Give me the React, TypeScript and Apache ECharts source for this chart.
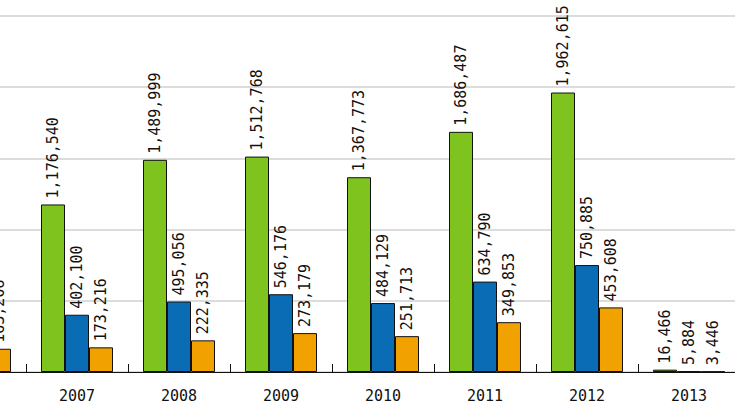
import React, { useEffect, useRef } from "react";
import * as echarts from "echarts";

const categories = ["2006", "2007", "2008", "2009", "2010", "2011", "2012", "2013"];
const greenValues = [null, 1176540, 1489999, 1512768, 1367773, 1686487, 1962615, 16466];
const blueValues = [null, 402100, 495056, 546176, 484129, 634790, 750885, 5884];
const orangeValues = [163208, 173216, 222335, 273179, 251713, 349853, 453608, 3446];
const yTicks = { min: 0, max: 2500000, interval: 500000 };

const fmt = (v: number) => v.toLocaleString("en-US");

export default function App() {
  const ref = useRef<HTMLDivElement>(null);
  useEffect(() => {
    if (!ref.current) return;
    const chart = echarts.init(ref.current, undefined, { renderer: "svg" });
    const label = {
      show: true,
      position: "top",
      rotate: 90,
      align: "left",
      verticalAlign: "middle",
      distance: 6,
      color: "#111",
      fontFamily: "DejaVu Sans Mono",
      fontSize: 15,
      formatter: (p: any) => fmt(p.value),
    };
    const mk = (name: string, data: any[], color: string) => ({
      name,
      type: "bar",
      data,
      barWidth: 24,
      barGap: "0%",
      itemStyle: { color, borderColor: "#111", borderWidth: 1 },
      label,
    });
    chart.setOption({
      animation: false,
      backgroundColor: "#ffffff",
      grid: { left: 0, right: 0, top: 16, bottom: 41, containLabel: false },
      xAxis: {
        type: "category",
        data: categories,
        boundaryGap: true,
        axisLine: { show: true, lineStyle: { color: "#111", width: 1 } },
        axisTick: { show: true, inside: true, length: 8, lineStyle: { color: "#111" } },
        axisLabel: { color: "#111", fontFamily: "DejaVu Sans Mono", fontSize: 15, margin: 16 },
      },
      yAxis: {
        type: "value",
        min: yTicks.min,
        max: yTicks.max,
        interval: yTicks.interval,
        axisLabel: { show: false },
        axisLine: { show: false },
        axisTick: { show: false },
        splitLine: { show: true, lineStyle: { color: "#dcdcdc", width: 2 } },
      },
      series: [
        mk("green", greenValues, "#7fc41e"),
        mk("blue", blueValues, "#0b6cb6"),
        mk("orange", orangeValues, "#f2a200"),
      ],
    });
    return () => chart.dispose();
  }, []);
  return (
    <div style={{ position: "fixed", left: 0, top: 0, width: 735, height: 413, overflow: "hidden", background: "#fff" }}>
      <div ref={ref} style={{ position: "absolute", left: -76, top: 0, width: 816, height: 413 }} />
    </div>
  );
}
